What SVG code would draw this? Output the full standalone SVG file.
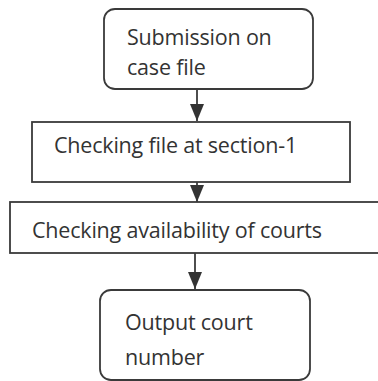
<svg xmlns="http://www.w3.org/2000/svg" width="378" height="381" viewBox="0 0 378 381">
<style>
.box{fill:#fff;stroke:#3a3a3a;stroke-width:1.8}
.lbl{font-family:"Open Sans","Liberation Sans",sans-serif;font-size:21.5px;fill:#333;letter-spacing:-0.2px}
.conn{stroke:#3a3a3a;stroke-width:1.8;fill:none}
</style>
<defs>
<marker id="ah" markerUnits="userSpaceOnUse" markerWidth="18" markerHeight="16" refX="17" refY="7" orient="auto">
<path d="M0,0 L17,7 L0,14 Z" fill="#333"/>
</marker>
</defs>
<rect width="378" height="381" fill="#fff"/>
<g id="connectors">
<line class="conn" x1="197" y1="89" x2="197" y2="121" marker-end="url(#ah)"/>
<line class="conn" x1="197" y1="182" x2="197" y2="202" marker-end="url(#ah)"/>
<line class="conn" x1="195" y1="253" x2="195" y2="289" marker-end="url(#ah)"/>
</g>
<g id="n1">
<rect class="box" x="104" y="9" width="209" height="80" rx="11"/>
<text class="lbl" x="127" y="45">Submission on</text>
<text class="lbl" x="127" y="75">case file</text>
</g>
<g id="n2">
<rect class="box" x="32" y="122" width="318" height="60"/>
<text class="lbl" x="54" y="153">Checking file at section-1</text>
</g>
<g id="n3">
<rect class="box" x="10" y="202" width="372" height="51"/>
<text class="lbl" x="32" y="238">Checking availability of courts</text>
</g>
<g id="n4">
<rect class="box" x="100" y="290" width="210" height="90" rx="11"/>
<text class="lbl" x="125" y="330">Output court</text>
<text class="lbl" x="125" y="365">number</text>
</g>
</svg>
